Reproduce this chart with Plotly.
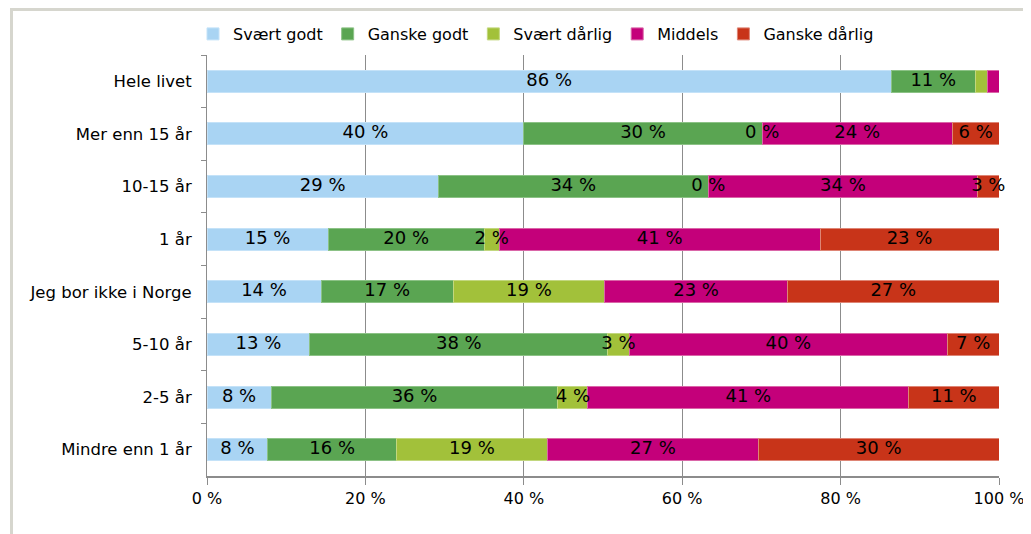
import plotly.graph_objects as go

categories = ["Hele livet", "Mer enn 15 år", "10-15 år", "1 år", "Jeg bor ikke i Norge",
              "5-10 år", "2-5 år", "Mindre enn 1 år"]

series_names = ["Svært godt", "Ganske godt", "Svært dårlig", "Middels", "Ganske dårlig"]

svaert_godt = [86.4, 40.0, 29.2, 15.3, 14.4, 13.0, 8.1, 7.7]
ganske_godt = [10.6, 30.1, 34.1, 19.7, 16.7, 37.6, 36.2, 16.2]
svaert_darlig = [1.5, 0.0, 0.0, 1.9, 19.1, 2.7, 3.8, 19.1]
middels = [1.5, 24.0, 34.0, 40.5, 23.1, 40.2, 40.5, 26.6]
ganske_darlig = [0.0, 5.9, 2.7, 22.6, 26.7, 6.5, 11.4, 30.4]

labels_svaert_godt = ["86 %", "40 %", "29 %", "15 %", "14 %", "13 %", "8 %", "8 %"]
labels_ganske_godt = ["11 %", "30 %", "34 %", "20 %", "17 %", "38 %", "36 %", "16 %"]
labels_svaert_darlig = ["", "0 %", "0 %", "2 %", "19 %", "3 %", "4 %", "19 %"]
labels_middels = ["", "24 %", "34 %", "41 %", "23 %", "40 %", "41 %", "27 %"]
labels_ganske_darlig = ["", "6 %", "3 %", "23 %", "27 %", "7 %", "11 %", "30 %"]

tick_vals = [0, 20, 40, 60, 80, 100]
tick_text = ["0 %", "20 %", "40 %", "60 %", "80 %", "100 %"]

colors = ["#A9D4F3", "#5AA552", "#A2C13A", "#C4007A", "#C83419"]
edge_colors = ["#C4E2F8", "#8CC286", "#C2D77E", "#DA66A8", "#DE8575"]

values = [svaert_godt, ganske_godt, svaert_darlig, middels, ganske_darlig]
labels = [labels_svaert_godt, labels_ganske_godt, labels_svaert_darlig,
          labels_middels, labels_ganske_darlig]

font = "DejaVu Sans, Verdana, sans-serif"

fig = go.Figure()
for name, vals, col, ecol in zip(series_names, values, colors, edge_colors):
    fig.add_trace(go.Bar(
        y=categories, x=vals, name=name, orientation="h",
        marker=dict(color=col, line=dict(color=ecol, width=1)),
        textposition="none", hoverinfo="x+name",
    ))

# centered labels via text traces at segment midpoints
cum = [0.0] * len(categories)
for vals, labs in zip(values, labels):
    mids = [c + v / 2 for c, v in zip(cum, vals)]
    fig.add_trace(go.Scatter(
        y=categories, x=mids, mode="text", text=labs, showlegend=False,
        textfont=dict(family=font, size=18, color="#000000"),
        textposition="middle center", hoverinfo="skip", cliponaxis=False,
    ))
    cum = [c + v for c, v in zip(cum, vals)]

L, T, PW, PH, W, H = 199, 47, 792, 421, 1031, 534

fig.update_layout(
    width=W, height=H,
    barmode="stack", bargap=0.58,
    margin=dict(l=L, r=W - L - PW, t=T, b=H - T - PH, autoexpand=False),
    paper_bgcolor="white", plot_bgcolor="white",
    font=dict(family=font, size=16, color="#000000"),
    legend=dict(orientation="h", xref="container", x=(L - 14) / W, xanchor="left",
                yref="container", y=1 - 26 / H, yanchor="middle",
                font=dict(family=font, size=16), traceorder="normal",
                itemwidth=30, tracegroupgap=0, entrywidthmode="pixels"),
    xaxis=dict(range=[0, 100], tickvals=tick_vals, ticktext=tick_text,
               showgrid=True, gridcolor="#8C8C8C", gridwidth=1,
               showline=True, linecolor="#8C8C8C", linewidth=2,
               ticks="outside", ticklen=7, tickcolor="#8C8C8C",
               tickfont=dict(family=font, size=16), zeroline=False, fixedrange=True),
    yaxis=dict(categoryorder="array", categoryarray=categories,
               autorange="reversed", showline=True, linecolor="#8C8C8C", linewidth=1,
               ticks="outside", ticklen=5, tickcolor="#8C8C8C", tickson="boundaries",
               ticklabelstandoff=11, tickfont=dict(family=font, size=16.5), fixedrange=True),
    shapes=[dict(type="rect", xref="paper", yref="paper",
                 x0=(3.5 - L) / PW, x1=1.2, y0=-0.3, y1=1 + (T - 1.5) / PH,
                 line=dict(color="#D6D6CE", width=3), fillcolor="rgba(0,0,0,0)",
                 layer="below")],
)

fig.write_html("out.html")
